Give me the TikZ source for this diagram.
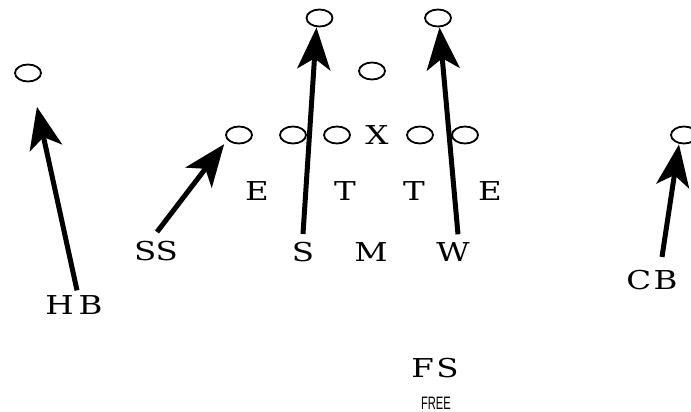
\documentclass[tikz,border=0pt]{standalone}
\usepackage{fontspec}
\usepackage{graphicx}
\usetikzlibrary{arrows.meta,shapes.geometric}
\newfontfamily\dvserif{DejaVu Serif}
\newfontfamily\lsans{Liberation Sans}
\newcommand{\widetxt}[1]{\scalebox{1.25}[1]{#1}}
\begin{document}
\begin{tikzpicture}[x=1pt,y=-1pt,
  player/.style={draw, ellipse, line width=1.8pt, minimum width=26pt, minimum height=17pt, inner sep=0pt},
  lbl/.style={font=\dvserif\fontsize{26}{26}\selectfont, inner sep=1pt},
  route/.style={line width=5pt, -{Stealth[length=42pt, width=33pt, inset=11pt]}}
]
\useasboundingbox (0,0) rectangle (691,412);
% offense
\node[player] (hbt) at (28,73) {};
\node[player] (t1) at (319.5,18) {};
\node[player] (t2) at (438,18) {};
\node[player] (qb) at (372,71) {};
\node[player] (l1) at (239,135) {};
\node[player] (l2) at (293,135) {};
\node[player] (l3) at (337,135) {};
\node[lbl] (ctr) at (377,135) {\widetxt{X}};
\node[player] (l4) at (420,135) {};
\node[player] (l5) at (465,135) {};
\node[player] (rc) at (684,135) {};
% defense
\node[lbl] (e1) at (257,191) {\widetxt{E}};
\node[lbl] (dt1) at (345,191) {\widetxt{T}};
\node[lbl] (dt2) at (414,191) {\widetxt{T}};
\node[lbl] (e2) at (490,191) {\widetxt{E}};
\node[lbl] (ss) at (156,251) {\widetxt{SS}};
\node[lbl] (s) at (303,252) {\widetxt{S}};
\node[lbl] (m) at (371,252) {\widetxt{M}};
\node[lbl] (w) at (453,252) {\widetxt{W}};
\node[lbl] (hb) at (74,305) {\widetxt{H\kern4pt B}};
\node[lbl] (cb) at (652,280) {\widetxt{C\kern2pt B}};
\node[lbl] (fs) at (435,368) {\widetxt{F\kern2pt S}};
\node[font=\lsans\fontsize{18}{18}\selectfont, inner sep=1pt] (free) at (436,403) {\scalebox{0.62}[1]{FREE}};
% routes
\draw[route, shorten >=25pt] ([xshift=3pt,yshift=4pt]hb.north) -- ([xshift=3.6pt]hbt.south);
\draw[route] ([xshift=1pt,yshift=8pt]ss.north) -- ([xshift=-5pt,yshift=-2.5pt]l1.south west);
\draw[route] ([yshift=7pt]s.north) -- ([xshift=-3pt]t1.south);
\draw[route] ([xshift=5pt,yshift=7pt]w.north) -- ([xshift=1.5pt]t2.south);
\draw[route] ([xshift=10pt,yshift=12pt]cb.north) -- ([xshift=-5pt]rc.south);
\end{tikzpicture}
\end{document}
